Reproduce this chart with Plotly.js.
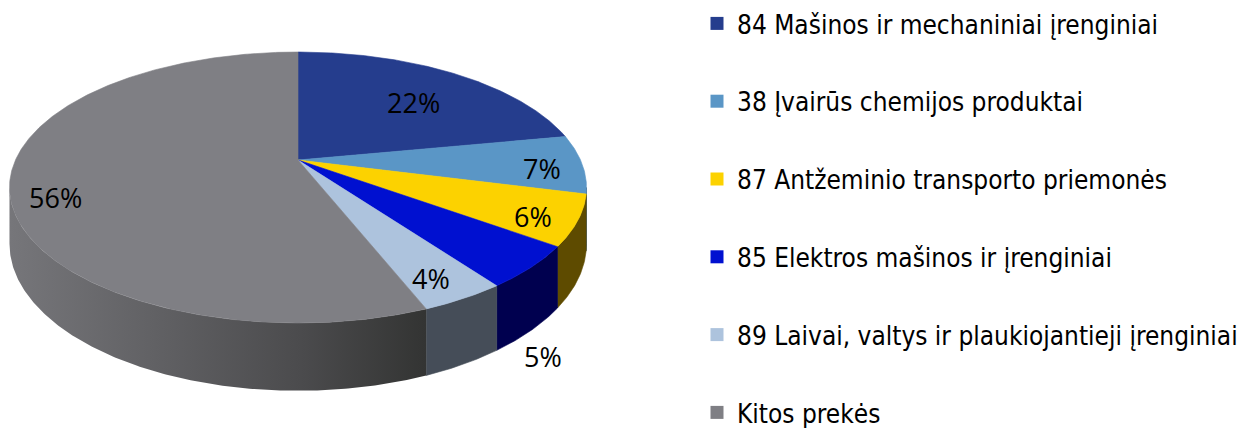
<!DOCTYPE html>
<html>
<head>
<meta charset="utf-8">
<script src="https://cdn.plot.ly/plotly-3.0.1.min.js"></script>
<style>html,body{margin:0;padding:0;background:#fff;}#chart{width:1244px;height:428px;}</style>
</head>
<body>
<div id="chart"></div>
<script>
// ---- data ----
const categories = [
  '84 Mašinos ir mechaniniai įrenginiai',
  '38 Įvairūs chemijos produktai',
  '87 Antžeminio transporto priemonės',
  '85 Elektros mašinos ir įrenginiai',
  '89 Laivai, valtys ir plaukiojantieji įrenginiai',
  'Kitos prekės'
];
const shares = [22, 7, 6, 5, 4, 56];
const shareLabels = ['22%', '7%', '6%', '5%', '4%', '56%'];

// ---- style ----
const topColors  = ['#253D8D', '#5A96C6', '#FCD200', '#0010D0', '#ADC3DD', '#7F7F84'];
const sideColors = ['#141F4A', '#2E4D66', '#5E4B00', '#00004F', '#454D58', '#555558'];
const labelRadius = [0.66, 0.86, 0.85, 1.0, 0.85, 0.86];
const labelOutside = [false, false, false, true, false, false];
const labelNudge = [[8, 2], [0, 5], [0, 6], [2, -2], [-3, 5], [4, 16]];

// 3D-projection geometry (screen px)
const G = {cx: 298, cy: 160, A: 282.5, B: 129.9, k: 0.203, H: 54};
const RAD = Math.PI / 180;
function proj(phi, r, down) {
  const u = r * Math.sin(phi * RAD), v = r * Math.cos(phi * RAD);
  const s = 1 / (1 + G.k * v);
  return [G.cx + G.A * u * s, G.cy - G.B * v * s + (down ? G.H * s : 0)];
}
function arc(a0, a1, r, down) {
  const n = Math.max(2, Math.ceil(Math.abs(a1 - a0) / 0.5));
  const pts = [];
  for (let i = 0; i <= n; i++) pts.push(proj(a0 + (a1 - a0) * i / n, r, down));
  return pts;
}

const total = shares.reduce((a, b) => a + b, 0);
const starts = [], ends = [];
let acc = 0;
shares.forEach(v => { starts.push(acc / total * 360); acc += v; ends.push(acc / total * 360); });

const visLo = Math.acos(-G.k) / RAD, visHi = 360 - visLo;
const traces = [];

// side walls
shares.forEach((v, i) => {
  const a0 = Math.max(starts[i], visLo), a1 = Math.min(ends[i], visHi);
  if (a1 <= a0) return;
  const topPts = arc(a0, a1, 1, false);
  const botPts = arc(a1, a0, 1, true);
  const pts = topPts.concat(botPts);
  pts.push(topPts[0]);
  const t = {
    type: 'scatter', mode: 'lines', fill: 'toself',
    x: pts.map(p => p[0]), y: pts.map(p => p[1]),
    fillcolor: sideColors[i], line: {color: sideColors[i], width: 0.6},
    hoverinfo: 'skip', showlegend: false
  };
  if (i === 5) {
    t.fillgradient = {type: 'horizontal',
      colorscale: [[0, '#76767A'], [0.35, '#616164'], [0.7, '#4B4B4D'], [1, '#333433']]};
    t.line = {color: 'rgba(0,0,0,0)', width: 0};
  }
  traces.push(t);
});

// top faces
shares.forEach((v, i) => {
  const pts = [[G.cx, G.cy]].concat(arc(starts[i], ends[i], 1, false));
  pts.push([G.cx, G.cy]);
  traces.push({
    type: 'scatter', mode: 'lines', fill: 'toself',
    x: pts.map(p => p[0]), y: pts.map(p => p[1]),
    fillcolor: topColors[i], line: {color: topColors[i], width: 0.6},
    hoverinfo: 'skip', showlegend: false
  });
});

// legend entries
categories.forEach((c, i) => {
  traces.push({
    type: 'scatter', mode: 'markers', x: [null], y: [null],
    name: c, legendgroup: 'g' + i,
    marker: {symbol: 'square', size: 13, color: topColors[i]},
    hoverinfo: 'skip', showlegend: true
  });
});

// data labels
const annotations = shares.map((v, i) => {
  const mid = (starts[i] + ends[i]) / 2;
  let p;
  if (labelOutside[i]) { p = proj(mid, 1, true); p = [p[0] + 10, p[1] + 28]; }
  else p = proj(mid, labelRadius[i], false);
  return {x: p[0] + labelNudge[i][0], y: p[1] + labelNudge[i][1], xref: 'x', yref: 'y',
    text: shareLabels[i], showarrow: false,
    font: {family: 'Open Sans, Noto Sans, sans-serif', size: 27, color: '#000'}};
});

const layout = {
  width: 1244, height: 428,
  margin: {l: 0, r: 0, t: 0, b: 0},
  paper_bgcolor: '#fff', plot_bgcolor: '#fff',
  xaxis: {range: [0, 1244], visible: false, fixedrange: true},
  yaxis: {range: [428, 0], visible: false, fixedrange: true},
  showlegend: true,
  legend: {x: 697 / 1244, xanchor: 'left', y: 0.984, yanchor: 'top',
    font: {family: 'DejaVu Sans Condensed, DejaVu Sans, sans-serif', size: 26, color: '#000'},
    tracegroupgap: 41, bgcolor: 'rgba(0,0,0,0)'},
  annotations: annotations
};

Plotly.newPlot('chart', traces, layout, {displayModeBar: false, staticPlot: true});
</script>
</body>
</html>
